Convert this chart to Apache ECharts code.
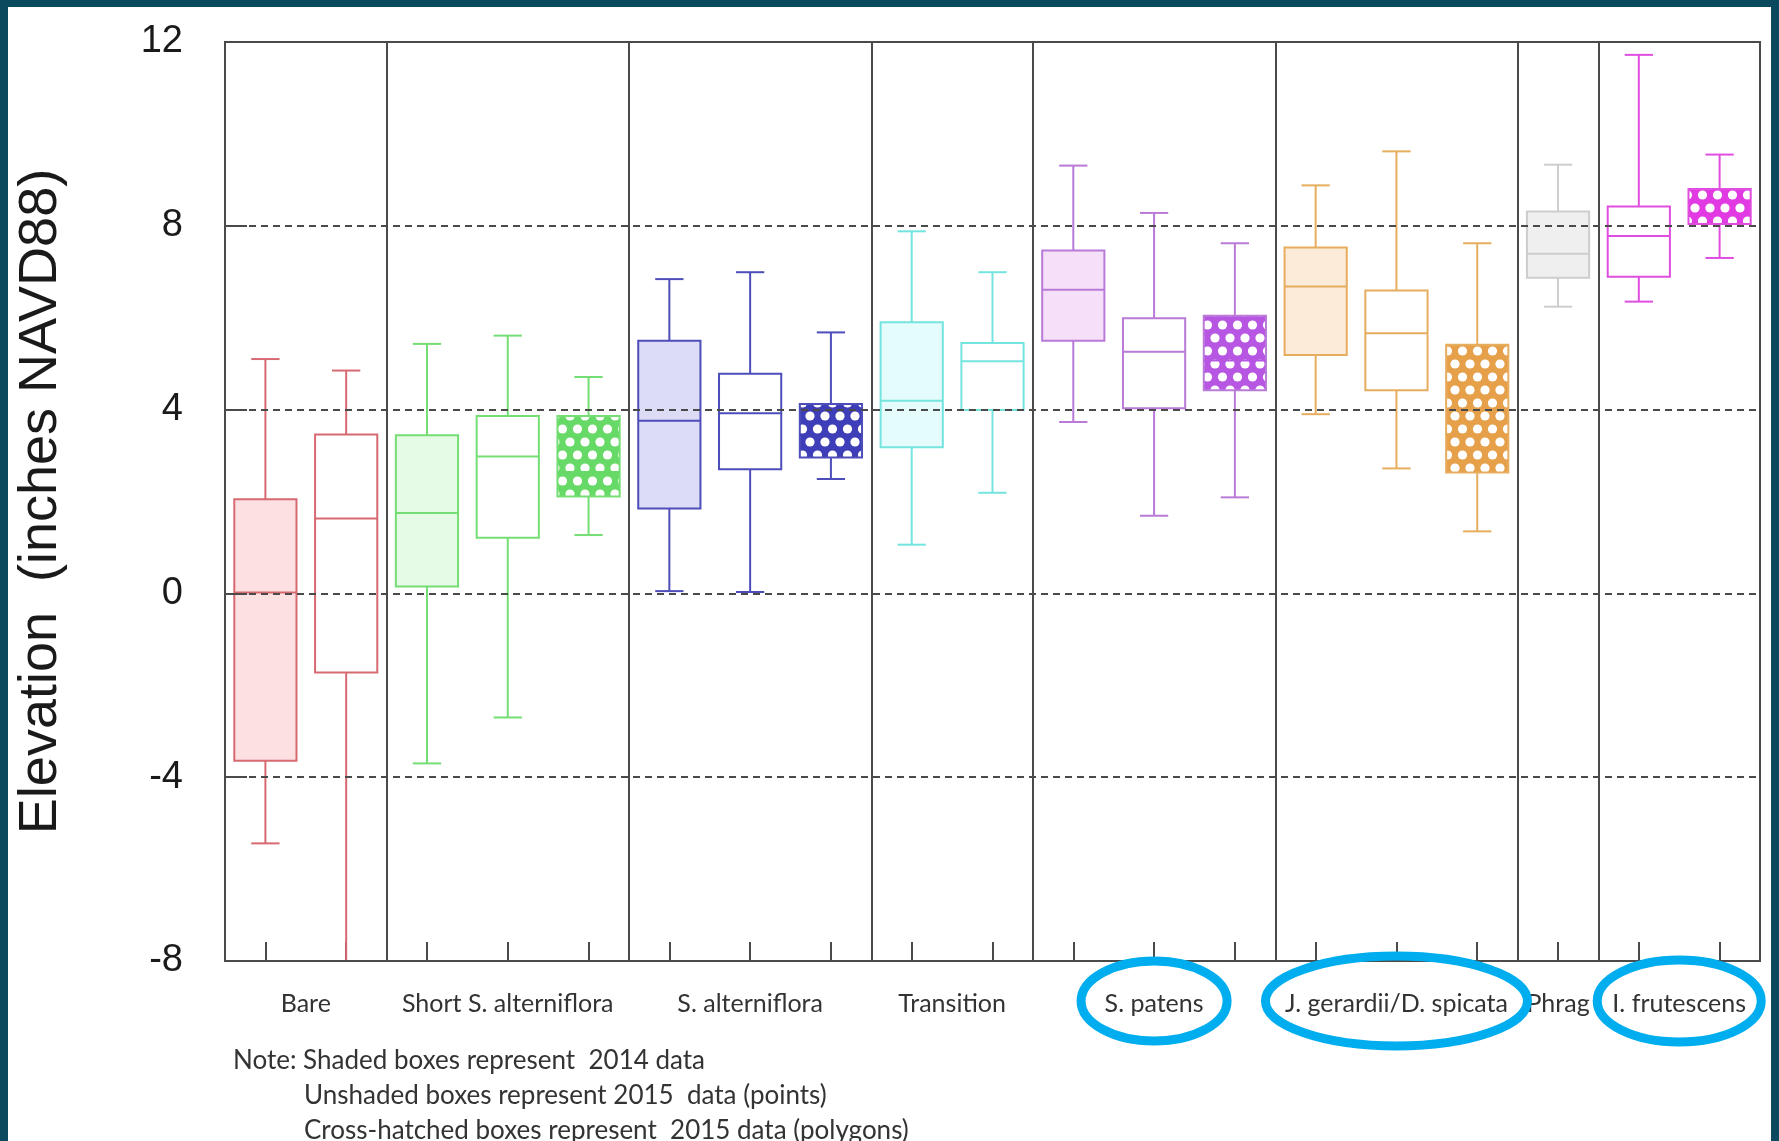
<!DOCTYPE html>
<html>
<head>
<meta charset="utf-8">
<script src="https://cdn.jsdelivr.net/npm/echarts@6/dist/echarts.min.js"></script>
<style>
  html, body { margin: 0; padding: 0; background: #ffffff; }
  #chart { width: 1779px; height: 1141px; }
</style>
</head>
<body>
<div id="chart"></div>
<script>
// Vegetation zones along the x axis
const groupNames = ['Bare', 'Short S. alterniflora', 'S. alterniflora', 'Transition',
  'S. patens', 'J. gerardii/D. spicata', 'Phrag', 'I. frutescens'];
// Zones whose labels are circled
const circledGroups = [4, 5, 7];

// One entry per box: zone index and data kind
// shaded = 2014, open = 2015 points, hatched = 2015 polygons
const boxGroup = [0, 0, 1, 1, 1, 2, 2, 2, 3, 3, 4, 4, 4, 5, 5, 5, 6, 7, 7];
const boxKind = ['shaded', 'open',
  'shaded', 'open', 'hatched',
  'shaded', 'open', 'hatched',
  'shaded', 'open',
  'shaded', 'open', 'hatched',
  'shaded', 'open', 'hatched',
  'shaded',
  'open', 'hatched'];

// Elevation statistics (inches NAVD88)
const boxMin    = [-5.44, -8.6, -3.70, -2.70, 1.27, 0.05, 0.03, 2.49, 1.06, 2.19, 3.73, 1.69, 2.09, 3.90, 2.72, 1.35, 6.24, 6.35, 7.30];
const boxQ1     = [-3.64, -1.72, 0.15, 1.21, 2.11, 1.85, 2.70, 2.96, 3.18, 3.99, 5.50, 4.03, 4.42, 5.19, 4.42, 2.63, 6.87, 6.89, 8.04];
const boxMedian = [0.02, 1.63, 1.75, 2.98, 2.64, 3.76, 3.92, 3.44, 4.19, 5.05, 6.61, 5.26, 5.07, 6.68, 5.66, 3.45, 7.39, 7.78, 8.53];
const boxQ3     = [2.05, 3.46, 3.44, 3.86, 3.86, 5.50, 4.78, 4.12, 5.90, 5.45, 7.46, 5.99, 6.04, 7.53, 6.59, 5.41, 8.31, 8.42, 8.80];
const boxMax    = [5.10, 4.85, 5.43, 5.61, 4.71, 6.84, 6.99, 5.68, 7.88, 6.99, 9.31, 8.28, 7.62, 8.88, 9.62, 7.62, 9.33, 11.72, 9.55];

// Y axis range and tick step
const yMin = -8, yMax = 12, yStep = 4;

const noteLines = [
  'Note: Shaded boxes represent  2014 data',
  'Unshaded boxes represent 2015  data (points)',
  'Cross-hatched boxes represent  2015 data (polygons)'
];

// Zone colours: outline, light fill, cross-hatch ink
const groupStroke = ['#d66a70', '#74de74', '#4e4eba', '#74e4df', '#b97ad8', '#e6ad5e', '#cdcdcd', '#e04ee0'];
const groupFill   = ['#fde0e1', '#e6fbe6', '#dcdcf6', '#e4fcfb', '#f6e0f9', '#fdebd9', '#efefef', '#ffffff'];
const groupHatch  = ['#d66a70', '#66d966', '#3e3eb8', '#74e4df', '#b756e2', '#e6a04a', '#cdcdcd', '#e23ae2'];

const kindText = { shaded: '2014', open: '2015 points', hatched: '2015 polygons' };
const boxNames = boxGroup.map((g, i) => groupNames[g] + ' ' + kindText[boxKind[i]]);

// Box index where each new zone starts -> separator lines
const zoneStarts = boxGroup.map((g, i) => i > 0 && g !== boxGroup[i - 1]).reduce((s, v, i) => (v ? s.concat(i) : s), []);

// Centre of each zone along a 0..N value scale (box i spans i..i+1)
const groupCenters = groupNames.map((_, g) => {
  const idx = boxGroup.map((gg, i) => (gg === g ? i : -1)).filter(i => i >= 0);
  return (idx[0] + idx[idx.length - 1] + 1) / 2;
});

// Cross-hatch tile: coloured mesh with round white openings
function makeHatch(color) {
  const w = 15, h = 26, r = 4.6;
  const c = document.createElement('canvas');
  c.width = w; c.height = h;
  const ctx = c.getContext('2d');
  ctx.fillStyle = color;
  ctx.fillRect(0, 0, w, h);
  ctx.fillStyle = '#ffffff';
  [[0, 0], [w, 0], [w / 2, h / 2], [0, h], [w, h]].forEach(([x, y]) => {
    ctx.beginPath();
    ctx.arc(x, y, r, 0, Math.PI * 2);
    ctx.fill();
  });
  return c;
}
const hatchPatterns = groupHatch.map(c => ({ image: makeHatch(c), repeat: 'repeat' }));

const seriesData = boxGroup.map((g, i) => [i, boxMin[i], boxQ1[i], boxMedian[i], boxQ3[i], boxMax[i]]);

const chart = echarts.init(document.getElementById('chart'), null, { renderer: 'canvas' });

const gridColor = '#4a4a4a';
const catFont = 'Lato, "Open Sans", sans-serif';

chart.setOption({
  backgroundColor: '#ffffff',
  animation: false,
  grid: {
    left: 225, top: 42, right: 19, bottom: 180,
    show: true, borderColor: gridColor, borderWidth: 2, backgroundColor: 'transparent'
  },
  xAxis: [
    {
      type: 'category',
      data: boxNames,
      boundaryGap: true,
      position: 'bottom',
      axisLine: { show: false, onZero: false },
      axisTick: { show: true, inside: true, alignWithLabel: true, interval: 0, length: 19,
        lineStyle: { color: gridColor, width: 2 } },
      axisLabel: { show: false },
      splitLine: {
        show: true,
        interval: (index) => zoneStarts.indexOf(index) >= 0,
        lineStyle: { color: gridColor, width: 2, type: 'solid' }
      }
    },
    {
      type: 'value',
      min: 0, max: boxGroup.length,
      position: 'bottom',
      axisLine: { show: false, onZero: false },
      axisTick: { show: false },
      splitLine: { show: false },
      axisLabel: {
        show: true,
        customValues: groupCenters,
        margin: 30,
        fontFamily: catFont,
        fontSize: 25,
        color: '#333333',
        formatter: (v) => {
          const k = groupCenters.findIndex(c => Math.abs(c - v) < 1e-6);
          return k >= 0 ? groupNames[k] : '';
        }
      }
    }
  ],
  yAxis: {
    type: 'value',
    min: yMin, max: yMax, interval: yStep,
    z: 5,
    name: 'Elevation  (inches NAVD88)',
    nameLocation: 'middle',
    nameRotate: 90,
    nameGap: 157,
    nameTextStyle: { fontFamily: '"Liberation Sans", Arial, sans-serif', fontSize: 54, color: '#1a1a1a' },
    axisLine: { show: false, onZero: false },
    axisTick: { show: true, inside: true, length: 22, lineStyle: { color: gridColor, width: 2 } },
    axisLabel: { fontFamily: '"Liberation Sans", Arial, sans-serif', fontSize: 38, color: '#1a1a1a', margin: 42 },
    splitLine: { show: true, lineStyle: { color: gridColor, width: 2.2, type: [7, 5] } }
  },
  series: [{
    type: 'custom',
    name: 'Elevation',
    xAxisIndex: 0,
    yAxisIndex: 0,
    clip: true,
    z: 2,
    encode: { x: 0, y: [1, 2, 3, 4, 5] },
    data: seriesData,
    renderItem: (params, api) => {
      const i = api.value(0);
      const lo = api.coord([i, api.value(1)]);
      const q1 = api.coord([i, api.value(2)]);
      const md = api.coord([i, api.value(3)]);
      const q3 = api.coord([i, api.value(4)]);
      const hi = api.coord([i, api.value(5)]);
      const band = api.size([1, 0])[0];
      const bw = band * 0.77;
      const cw = band * 0.35;
      const x = lo[0];
      const g = boxGroup[i];
      const kind = boxKind[i];
      const stroke = groupStroke[g];
      const fill = kind === 'shaded' ? groupFill[g] : (kind === 'hatched' ? hatchPatterns[g] : '#ffffff');
      const ls = { stroke: stroke, lineWidth: 2 };
      return {
        type: 'group',
        children: [
          { type: 'line', shape: { x1: x, y1: hi[1], x2: x, y2: q3[1] }, style: ls },
          { type: 'line', shape: { x1: x, y1: q1[1], x2: x, y2: lo[1] }, style: ls },
          { type: 'line', shape: { x1: x - cw / 2, y1: hi[1], x2: x + cw / 2, y2: hi[1] }, style: ls },
          { type: 'line', shape: { x1: x - cw / 2, y1: lo[1], x2: x + cw / 2, y2: lo[1] }, style: ls },
          { type: 'rect', shape: { x: x - bw / 2, y: q3[1], width: bw, height: q1[1] - q3[1] },
            style: { fill: fill, stroke: stroke, lineWidth: 2 } },
          { type: 'line', shape: { x1: x - bw / 2, y1: md[1], x2: x + bw / 2, y2: md[1] },
            style: { stroke: kind === 'hatched' ? groupHatch[g] : stroke, lineWidth: 2 } }
        ]
      };
    }
  }]
});

// Frame, note text and the circled zone labels
const frameColor = '#0b4a5e';
const baseY = chart.convertToPixel({ yAxisIndex: 0 }, yMin);
const labelY = baseY + 40;
const graphics = [
  { type: 'rect', left: 0, top: 0, shape: { width: 8, height: 1141 }, style: { fill: frameColor }, z: 10 },
  { type: 'rect', left: 0, top: 0, shape: { width: 1779, height: 7 }, style: { fill: frameColor }, z: 10 },
  { type: 'rect', left: 1771, top: 0, shape: { width: 8, height: 1141 }, style: { fill: frameColor }, z: 10 }
];
noteLines.forEach((t, k) => {
  graphics.push({
    type: 'text',
    x: k === 0 ? 233 : 304,
    y: baseY + 100 + k * 35,
    style: { text: t, font: '26px ' + catFont, fill: '#333333', textVerticalAlign: 'middle' },
    z: 10
  });
});
const ellipseSize = { 4: [73, 40], 5: [131, 45], 7: [82, 41] };
circledGroups.forEach(g => {
  const cx = chart.convertToPixel({ xAxisIndex: 1 }, groupCenters[g]);
  graphics.push({
    type: 'ellipse',
    shape: { cx: cx, cy: labelY, rx: ellipseSize[g][0], ry: ellipseSize[g][1] },
    style: { fill: 'none', stroke: '#00aeef', lineWidth: 9 },
    z: 20
  });
});
chart.setOption({ graphic: graphics });
</script>
</body>
</html>
